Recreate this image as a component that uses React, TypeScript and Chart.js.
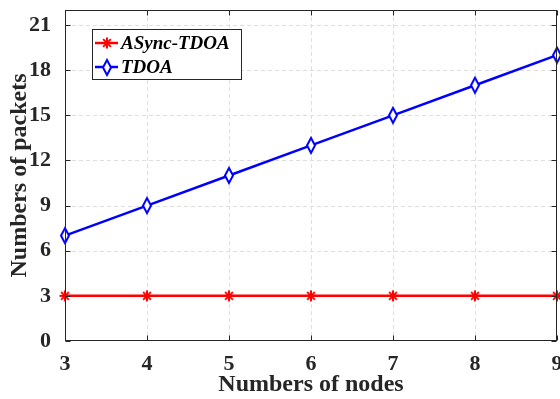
import React, { useEffect, useRef } from "react";
import { Chart, registerables } from "chart.js";

Chart.register(...registerables);

const nodes = [3, 4, 5, 6, 7, 8, 9];
const asyncTdoa = [3, 3, 3, 3, 3, 3, 3];
const tdoa = [7, 9, 11, 13, 15, 17, 19];
const yTicks = [0, 3, 6, 9, 12, 15, 18, 21];
const xTicks = [3, 4, 5, 6, 7, 8, 9];
const seriesNames = ["ASync-TDOA", "TDOA"];

const FONT = "'Liberation Serif', 'Times New Roman', serif";

function makeDiamond(color: string): HTMLCanvasElement {
  const c = document.createElement("canvas");
  c.width = 12;
  c.height = 19;
  const g = c.getContext("2d")!;
  g.strokeStyle = color;
  g.fillStyle = "#ffffff";
  g.lineWidth = 2;
  g.beginPath();
  g.moveTo(6, 2);
  g.lineTo(10, 9.5);
  g.lineTo(6, 17);
  g.lineTo(2, 9.5);
  g.closePath();
  g.fill();
  g.stroke();
  return c;
}

function makeStar(color: string): HTMLCanvasElement {
  const c = document.createElement("canvas");
  c.width = 14;
  c.height = 14;
  const g = c.getContext("2d")!;
  g.strokeStyle = color;
  g.lineWidth = 2;
  g.beginPath();
  const cx = 7, cy = 7, r = 5.5;
  for (let k = 0; k < 4; k++) {
    const ang = (k * Math.PI) / 4;
    g.moveTo(cx + Math.cos(ang) * r, cy + Math.sin(ang) * r);
    g.lineTo(cx - Math.cos(ang) * r, cy - Math.sin(ang) * r);
  }
  g.stroke();
  return c;
}

const framePlugin = {
  id: "frame",
  beforeDatasetsDraw(chart: any) {
    const { ctx, chartArea: a, scales } = chart;
    ctx.save();
    ctx.strokeStyle = "#dedede";
    ctx.lineWidth = 1;
    ctx.setLineDash([4, 3]);
    xTicks.forEach((v) => {
      const px = Math.round(scales.x.getPixelForValue(v)) + 0.5;
      if (px <= a.left + 1 || px >= a.right - 1) return;
      ctx.beginPath();
      ctx.moveTo(px, a.top);
      ctx.lineTo(px, a.bottom);
      ctx.stroke();
    });
    yTicks.forEach((v) => {
      const py = Math.round(scales.y.getPixelForValue(v)) + 0.5;
      if (py <= a.top + 1 || py >= a.bottom - 1) return;
      ctx.beginPath();
      ctx.moveTo(a.left, py);
      ctx.lineTo(a.right, py);
      ctx.stroke();
    });
    ctx.restore();
  },
  afterDatasetsDraw(chart: any) {
    const { ctx, chartArea: a, scales } = chart;
    ctx.save();
    ctx.strokeStyle = "#262626";
    ctx.lineWidth = 1;
    ctx.setLineDash([]);
    const L = Math.round(a.left) + 0.5;
    const R = Math.round(a.right) - 0.5;
    const T = Math.round(a.top) + 0.5;
    const B = Math.round(a.bottom) - 0.5;
    ctx.strokeRect(L, T, R - L, B - T);
    const tl = 5;
    xTicks.forEach((v) => {
      const px = Math.round(scales.x.getPixelForValue(v)) + 0.5;
      ctx.beginPath();
      ctx.moveTo(px, B);
      ctx.lineTo(px, B - tl);
      ctx.moveTo(px, T);
      ctx.lineTo(px, T + tl);
      ctx.stroke();
    });
    yTicks.forEach((v) => {
      const py = Math.round(scales.y.getPixelForValue(v)) + 0.5;
      ctx.beginPath();
      ctx.moveTo(L, py);
      ctx.lineTo(L + tl, py);
      ctx.moveTo(R, py);
      ctx.lineTo(R - tl, py);
      ctx.stroke();
    });

    // legend
    const bx = 92.5, by = 29.5, bw = 149, bh = 50;
    ctx.fillStyle = "#ffffff";
    ctx.fillRect(bx, by, bw, bh);
    ctx.strokeStyle = "#262626";
    ctx.strokeRect(bx, by, bw, bh);
    const rows = [43, 67];
    chart.data.datasets.forEach((ds: any, i: number) => {
      const y = rows[i];
      ctx.strokeStyle = ds.borderColor;
      ctx.lineWidth = ds.borderWidth;
      ctx.beginPath();
      ctx.moveTo(95, y);
      ctx.lineTo(118, y);
      ctx.stroke();
      const img = ds.pointStyle as HTMLCanvasElement;
      ctx.drawImage(img, Math.round(107 - img.width / 2), Math.round(y - img.height / 2));
      ctx.fillStyle = "#000000";
      ctx.font = `italic bold 19px ${FONT}`;
      ctx.textBaseline = "middle";
      ctx.textAlign = "left";
      ctx.fillText(ds.label, 121, y + 1);
    });
    ctx.restore();
  },
};

export default function App() {
  const ref = useRef<HTMLCanvasElement>(null);
  useEffect(() => {
    if (!ref.current) return;
    const chart = new Chart(ref.current, {
      type: "line",
      data: {
        datasets: [
          {
            label: seriesNames[0],
            data: nodes.map((n, i) => ({ x: n, y: asyncTdoa[i] })),
            borderColor: "#ff0000",
            backgroundColor: "#ff0000",
            borderWidth: 2.5,
            pointStyle: makeStar("#ff0000"),
            pointRadius: 6,
            clip: false as any,
          },
          {
            label: seriesNames[1],
            data: nodes.map((n, i) => ({ x: n, y: tdoa[i] })),
            borderColor: "#0000ff",
            backgroundColor: "#0000ff",
            borderWidth: 2.5,
            pointStyle: makeDiamond("#0000ff"),
            pointRadius: 7,
            clip: false as any,
          },
        ],
      },
      options: {
        responsive: false,
        animation: false,
        layout: { autoPadding: false, padding: { top: 10, right: 3, left: 0, bottom: 0 } },
        plugins: { legend: { display: false }, tooltip: { enabled: false } },
        scales: {
          x: {
            type: "linear",
            min: 3,
            max: 9,
            grid: { display: false },
            border: { display: false },
            afterBuildTicks: (s: any) => {
              s.ticks = xTicks.map((v) => ({ value: v }));
            },
            afterFit: (s: any) => {
              s.height = 58;
              s.paddingLeft = 0;
              s.paddingRight = 0;
            },
            ticks: {
              color: "#262626",
              font: { family: FONT, size: 22, weight: "bold" },
              padding: 2,
              maxRotation: 0,
            },
            title: {
              display: true,
              text: "Numbers of nodes",
              color: "#262626",
              font: { family: FONT, size: 24, weight: "bold" },
              padding: { top: 0, bottom: 0 },
            },
          },
          y: {
            type: "linear",
            min: 0,
            max: 22,
            grid: { display: false },
            border: { display: false },
            afterBuildTicks: (s: any) => {
              s.ticks = yTicks.map((v) => ({ value: v }));
            },
            afterFit: (s: any) => {
              s.width = 65;
              s.paddingTop = 0;
              s.paddingBottom = 0;
            },
            ticks: {
              color: "#262626",
              font: { family: FONT, size: 22, weight: "bold" },
              padding: 6,
            },
            title: {
              display: true,
              text: "Numbers of packets",
              color: "#262626",
              font: { family: FONT, size: 24, weight: "bold" },
              padding: { top: 5, bottom: 0 },
            },
          },
        },
      },
      plugins: [framePlugin],
    } as any);
    return () => chart.destroy();
  }, []);
  return (
    <div style={{ position: "fixed", left: 0, top: 0, width: 560, height: 399, background: "#fff" }}>
      <canvas ref={ref} width={560} height={399} style={{ width: 560, height: 399, display: "block" }} />
    </div>
  );
}
